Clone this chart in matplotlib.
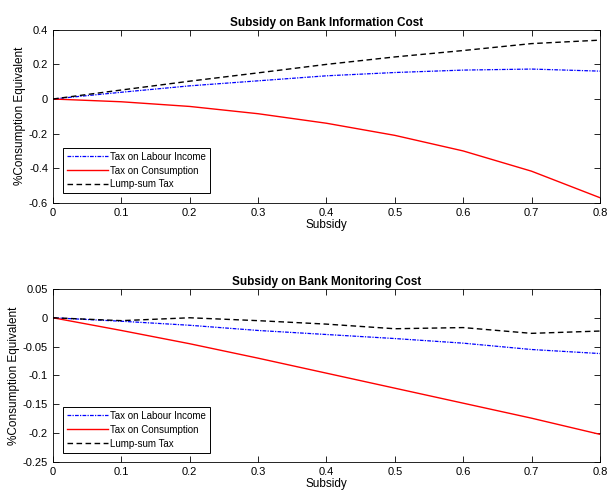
import matplotlib
matplotlib.use("Agg")
import matplotlib.pyplot as plt
import numpy as np

plt.rcParams["font.family"] = ["Liberation Sans", "DejaVu Sans"]

subsidy = [0.0, 0.1, 0.2, 0.3, 0.4, 0.5, 0.6, 0.7, 0.8]

# welfare gains, subsidy on bank information cost
info_labour = [0.0, 0.039, 0.076, 0.105, 0.134, 0.153, 0.167, 0.173, 0.161]
info_consumption = [0.0, -0.016, -0.043, -0.085, -0.14, -0.21, -0.30, -0.417, -0.57]
info_lumpsum = [0.0, 0.052, 0.103, 0.151, 0.20, 0.243, 0.28, 0.32, 0.34]

# welfare gains, subsidy on bank monitoring cost
mon_labour = [0.0, -0.006, -0.013, -0.022, -0.029, -0.036, -0.044, -0.055, -0.062]
mon_consumption = [0.0, -0.022, -0.045, -0.070, -0.096, -0.122, -0.148, -0.174, -0.202]
mon_lumpsum = [0.0, -0.005, 0.0, -0.005, -0.011, -0.019, -0.017, -0.027, -0.023]

series_names = ["Tax on Labour Income", "Tax on Consumption", "Lump-sum Tax"]

info_yticks = [0.4, 0.2, 0, -0.2, -0.4, -0.6]
mon_yticks = [0.05, 0, -0.05, -0.1, -0.15, -0.2, -0.25]
xticks = [0, 0.1, 0.2, 0.3, 0.4, 0.5, 0.6, 0.7, 0.8]


def fmt(v):
    return "0" if v == 0 else f"{v:g}"


def panel(ax, labour, consumption, lumpsum, title, yticks):
    ax.plot(subsidy, labour, color="blue", lw=0.9, dashes=(3, 1, 1, 1))
    ax.plot(subsidy, consumption, color="red", lw=1.0)
    ax.plot(subsidy, lumpsum, color="black", lw=1.0, dashes=(4, 2.5))
    ax.set_xlim(0, 0.8)
    ax.set_ylim(min(yticks), max(yticks))
    ax.set_xticks(xticks)
    ax.set_xticklabels([fmt(v) for v in xticks])
    ax.set_yticks(yticks)
    ax.set_yticklabels([fmt(v) for v in yticks])
    ax.tick_params(direction="in", top=True, right=True, labelsize=8,
                   length=4, width=0.6)
    for s in ax.spines.values():
        s.set_linewidth(0.6)
    ax.set_title(title, fontsize=8.5, fontweight="bold", pad=3)
    ax.set_xlabel("Subsidy", fontsize=8.5, labelpad=1)
    ax.set_ylabel("%Consumption Equivalent", fontsize=8.5, labelpad=2)
    leg = ax.legend(series_names, loc="lower left", bbox_to_anchor=(0.018, 0.055),
                    fontsize=7, fancybox=False, edgecolor="black",
                    framealpha=1, handlelength=4.2, handletextpad=0.3,
                    borderpad=0.4, labelspacing=0.4, borderaxespad=0)
    leg.get_frame().set_linewidth(0.7)


fig = plt.figure(figsize=(6.09, 4.96), dpi=100)
ax1 = fig.add_axes([0.087, 0.591, 0.898, 0.349])
ax2 = fig.add_axes([0.087, 0.0685, 0.898, 0.349])

panel(ax1, info_labour, info_consumption, info_lumpsum,
      "Subsidy on Bank Information Cost", info_yticks)
panel(ax2, mon_labour, mon_consumption, mon_lumpsum,
      "Subsidy on Bank Monitoring Cost", mon_yticks)
fig.align_ylabels([ax1, ax2])

fig.savefig("out.png", dpi=100)
